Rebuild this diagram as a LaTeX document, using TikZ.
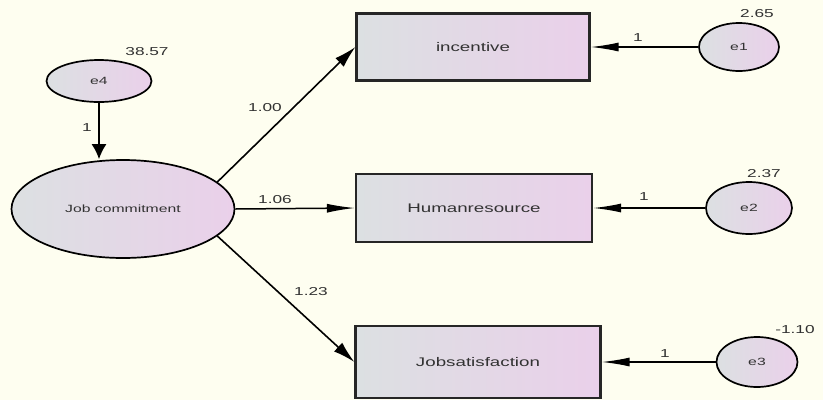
\documentclass[tikz,border=0pt]{standalone}
\usepackage{fontspec}
\setmainfont[FakeStretch=1.5]{Liberation Sans}
\usetikzlibrary{shapes.geometric}
\usetikzlibrary{arrows.meta}

\definecolor{bgyellow}{RGB}{254,254,240}
\definecolor{fillgray}{RGB}{220,224,226}
\definecolor{fillpink}{RGB}{234,208,234}
\definecolor{ink}{RGB}{50,50,50}

\begin{document}
\begin{tikzpicture}[x=1pt,y=-1pt,
    latent/.style={ellipse,draw=black,line width=1.7pt,left color=fillgray,right color=fillpink,
      inner sep=0pt,text=ink},
    observed/.style={rectangle,draw=black!85,line width=2.2pt,left color=fillgray,right color=fillpink,
      inner sep=0pt,text=ink,font=\fontsize{12.5}{14}\selectfont},
    weight/.style={inner sep=0pt,text=ink,font=\fontsize{11.5}{13}\selectfont},
    hpath/.style={-{Latex[length=28pt,width=9pt]},line width=1.5pt},
    dpath/.style={-{Latex[length=22pt,width=12pt]},line width=1.6pt},
    vpath/.style={-{Latex[length=15pt,width=15pt]},line width=1.6pt}]

    \useasboundingbox[fill=bgyellow] (0,0) rectangle (823,400);

    % latent variable and its error
    \node[latent,minimum width=223pt,minimum height=98pt,font=\fontsize{10.5}{12}\selectfont] (jc) at (123,209) {Job commitment};
    \node[latent,minimum width=105pt,minimum height=42pt,font=\fontsize{10.5}{12}\selectfont] (e4) at (99,81) {e4};

    % observed variables
    \node[observed,minimum width=233pt,minimum height=67pt] (inc) at (473,47) {incentive};
    \node[observed,minimum width=236pt,minimum height=68pt] (hr) at (474,208) {Humanresource};
    \node[observed,minimum width=245pt,minimum height=72pt] (js) at (478,362) {Jobsatisfaction};

    % error terms
    \node[latent,minimum width=80pt,minimum height=48pt,font=\fontsize{10.5}{12}\selectfont] (e1) at (739,47) {e1};
    \node[latent,minimum width=86pt,minimum height=52pt,font=\fontsize{10.5}{12}\selectfont] (e2) at (749,208) {e2};
    \node[latent,minimum width=81pt,minimum height=50pt,font=\fontsize{10.5}{12}\selectfont] (e3) at (757,362) {e3};

    % paths
    \draw[vpath] (e4.south) -- (e4.south |- jc.north);
    \draw[dpath] (jc.16) -- (inc.west);
    \draw[hpath] (jc.east) -- (hr.west);
    \draw[dpath] (jc.-16) -- (js.west);
    \draw[hpath] (e1.west) -- (inc.east);
    \draw[hpath] (e2.west) -- (hr.east);
    \draw[hpath] (e3.west) -- (js.east);

    % estimates
    \node[weight] (v4) at (147,52) {38.57};
    \node[weight] (w4) at (87,128) {1};
    \node[weight] (w1) at (265,108) {1.00};
    \node[weight] (w2) at (275,200) {1.06};
    \node[weight] (w3) at (311,292) {1.23};
    \node[weight] (v1) at (757,14) {2.65};
    \node[weight] (u1) at (638,38) {1};
    \node[weight] (v2) at (764,174) {2.37};
    \node[weight] (u2) at (644,197) {1};
    \node[weight] (v3) at (795,330) {-1.10};
    \node[weight] (u3) at (665,354) {1};
\end{tikzpicture}
\end{document}
